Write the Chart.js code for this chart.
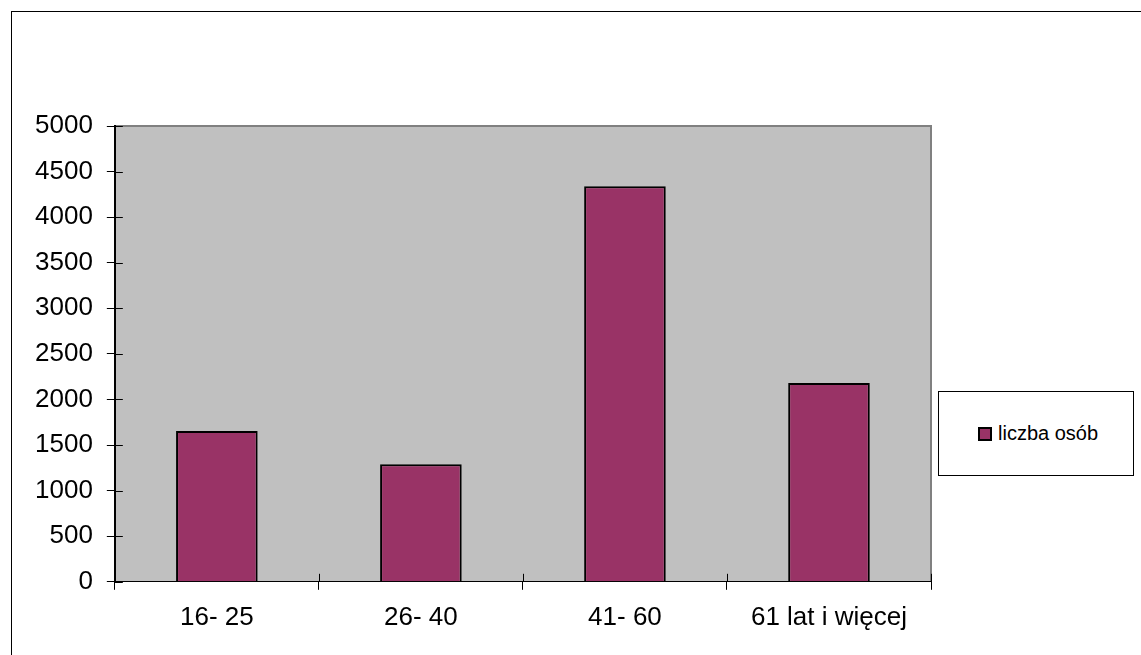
<!DOCTYPE html>
<html>
<head>
<meta charset="utf-8">
<script src="https://cdn.jsdelivr.net/npm/chart.js@4/dist/chart.umd.min.js"></script>
<style>
    html, body { margin: 0; padding: 0; background: #fff; overflow: hidden; }
    #wrap { position: relative; width: 1141px; height: 655px; }
    #frame { position: absolute; left: 11px; top: 11px; width: 1300px; height: 800px; border: 1px solid #000; }
    #chart { position: absolute; left: 0; top: 0; }
    #legend {
        position: absolute; left: 938px; top: 391px; width: 196px; height: 85px;
        border: 1px solid #000; background: #fff; box-sizing: border-box;
        font-family: "Liberation Sans", Arial, sans-serif; font-size: 20px; color: #000;
    }
    #legend .sw {
        position: absolute; left: 39px; top: 35px; width: 14px; height: 14px;
        background: #993366; border: 2px solid #000; box-sizing: border-box;
    }
    #legend .lbl { position: absolute; left: 59px; top: 29px; line-height: 24px; }
</style>
</head>
<body>
<div id="wrap">
    <div id="frame"></div>
    <canvas id="chart" width="1141" height="655"></canvas>
    <div id="legend"><span class="sw"></span><span class="lbl" id="legendLabel"></span></div>
</div>
<script>
// data
const categories = ['16- 25', '26- 40', '41- 60', '61 lat i więcej'];
const seriesName = 'liczba osób';
const seriesValues = [1655, 1290, 4340, 2180];
const yTicks = [0, 500, 1000, 1500, 2000, 2500, 3000, 3500, 4000, 4500, 5000];

document.getElementById('legendLabel').textContent = seriesName;

const FONT = '"Liberation Sans", Arial, sans-serif';

// grey plot area with thin grey top/right edge
const plotBackground = {
    id: 'plotBackground',
    beforeDraw(chart) {
        const { ctx, chartArea: a } = chart;
        ctx.save();
        ctx.fillStyle = '#c0c0c0';
        ctx.fillRect(a.left, a.top, a.right - a.left, a.bottom - a.top);
        ctx.strokeStyle = '#808080';
        ctx.lineWidth = 2;
        ctx.beginPath();
        ctx.moveTo(a.left, a.top);
        ctx.lineTo(a.right, a.top);
        ctx.lineTo(a.right, a.bottom);
        ctx.stroke();
        ctx.restore();
    }
};

// tick marks that cross the axes (inner half)
const crossTicks = {
    id: 'crossTicks',
    afterDatasetsDraw(chart) {
        const { ctx, chartArea: a, scales } = chart;
        ctx.save();
        ctx.strokeStyle = '#000';
        ctx.lineWidth = 1;
        ctx.beginPath();
        scales.y.ticks.forEach((t, i) => {
            const y = Math.round(scales.y.getPixelForTick(i)) + 0.5;
            ctx.moveTo(a.left, y);
            ctx.lineTo(a.left + 8, y);
        });
        for (let i = 0; i <= categories.length; i++) {
            const x = Math.round(scales.x.getPixelForValue(i - 0.5)) + 0.5;
            ctx.moveTo(x, a.bottom);
            ctx.lineTo(x, a.bottom - 8);
        }
        ctx.stroke();
        ctx.restore();
    }
};

new Chart(document.getElementById('chart'), {
    type: 'bar',
    data: {
        labels: categories,
        datasets: [{
            label: seriesName,
            data: seriesValues,
            backgroundColor: '#993366',
            borderColor: '#000',
            borderWidth: 2,
            barPercentage: 0.4,
            categoryPercentage: 1.0
        }]
    },
    options: {
        responsive: false,
        devicePixelRatio: 1,
        animation: false,
        layout: { padding: { left: 21, right: 210, top: 126, bottom: 10 } },
        plugins: {
            legend: { display: false },
            tooltip: { enabled: false }
        },
        scales: {
            x: {
                grid: { display: true, drawOnChartArea: false, color: '#000', tickLength: 8, offset: true },
                border: { color: '#000', width: 1 },
                ticks: { color: '#000', font: { family: FONT, size: 26 }, padding: 12 }
            },
            y: {
                min: 0,
                max: 5000,
                afterBuildTicks: (axis) => { axis.ticks = yTicks.map(v => ({ value: v })); },
                grid: { display: true, drawOnChartArea: false, color: '#000', tickLength: 8 },
                border: { color: '#000', width: 2 },
                ticks: {
                    color: '#000',
                    font: { family: FONT, size: 26 },
                    padding: 14,
                    callback: (v) => String(v)
                }
            }
        }
    },
    plugins: [plotBackground, crossTicks]
});
</script>
</body>
</html>
